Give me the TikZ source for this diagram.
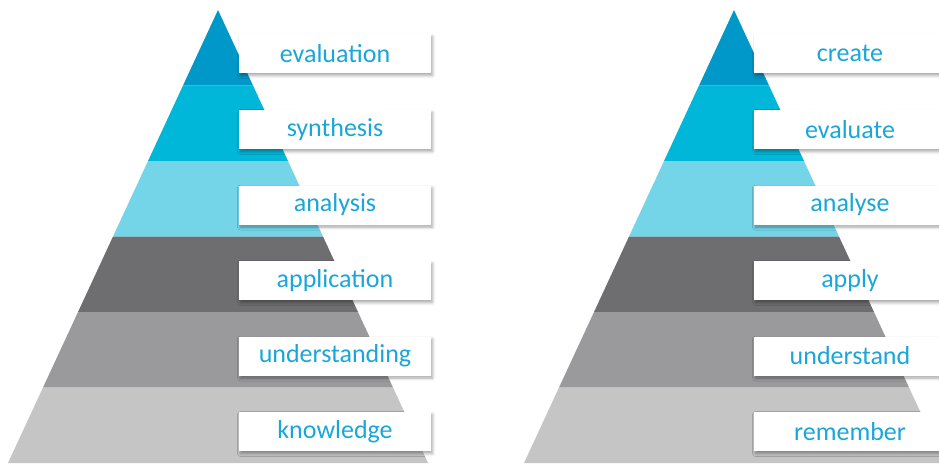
\documentclass[tikz,border=0pt]{standalone}
\usepackage{fontspec}
\setmainfont{Carlito}
\usetikzlibrary{shadows.blur}

\tikzset{
  tag/.style={fill=white,minimum width=192pt,minimum height=39pt,inner sep=0pt,
    text=word,font=\fontsize{26}{30}\selectfont,
    blur shadow={shadow xshift=1.5pt,shadow yshift=-2.5pt,shadow blur radius=3pt,shadow opacity=35}}
}

\begin{document}
\begin{tikzpicture}[x=1pt,y=-1pt]
\definecolor{tipblue}{HTML}{0098C8}
\definecolor{midblue}{HTML}{00B7DA}
\definecolor{paleblue}{HTML}{74D4E8}
\definecolor{darkgrey}{HTML}{6E6E70}
\definecolor{midgrey}{HTML}{9A9A9C}
\definecolor{lightgrey}{HTML}{C5C5C5}
\definecolor{word}{HTML}{1AA6D8}
\clip (0,0) rectangle (939,463);
% left pyramid, apex at x=218
\fill[tipblue] (218,10) -- (253,85.5) -- (183,85.5) -- cycle;
\fill[midblue] (183,85.5) -- (253,85.5) -- (288,161) -- (148,161) -- cycle;
\fill[paleblue] (148,161) -- (288,161) -- (323,236.5) -- (113,236.5) -- cycle;
\fill[darkgrey] (113,236.5) -- (323,236.5) -- (358,312) -- (78,312) -- cycle;
\fill[midgrey] (78,312) -- (358,312) -- (393,387.5) -- (43,387.5) -- cycle;
\fill[lightgrey] (43,387.5) -- (393,387.5) -- (428,463) -- (8,463) -- cycle;
\node[tag] (evaluation) at (335,53.5) {evaluation};
\node[tag] (synthesis) at (335,129.5) {synthesis};
\node[tag] (analysis) at (335,205) {analysis};
\node[tag] (application) at (335,280.5) {application};
\node[tag] (understanding) at (335,356) {understanding};
\node[tag] (knowledge) at (335,431.5) {knowledge};
% right pyramid, apex at x=734
\fill[tipblue] (734,10) -- (769,85.5) -- (699,85.5) -- cycle;
\fill[midblue] (699,85.5) -- (769,85.5) -- (804,161) -- (664,161) -- cycle;
\fill[paleblue] (664,161) -- (804,161) -- (839,236.5) -- (629,236.5) -- cycle;
\fill[darkgrey] (629,236.5) -- (839,236.5) -- (874,312) -- (594,312) -- cycle;
\fill[midgrey] (594,312) -- (874,312) -- (909,387.5) -- (559,387.5) -- cycle;
\fill[lightgrey] (559,387.5) -- (909,387.5) -- (944,463) -- (524,463) -- cycle;
\node[tag] (create) at (850,53.5) {create};
\node[tag] (evaluate) at (850,129.5) {evaluate};
\node[tag] (analyse) at (850,205) {analyse};
\node[tag] (apply) at (850,280.5) {apply};
\node[tag] (understand) at (850,356) {understand};
\node[tag] (remember) at (850,431.5) {remember};
\end{tikzpicture}
\end{document}
